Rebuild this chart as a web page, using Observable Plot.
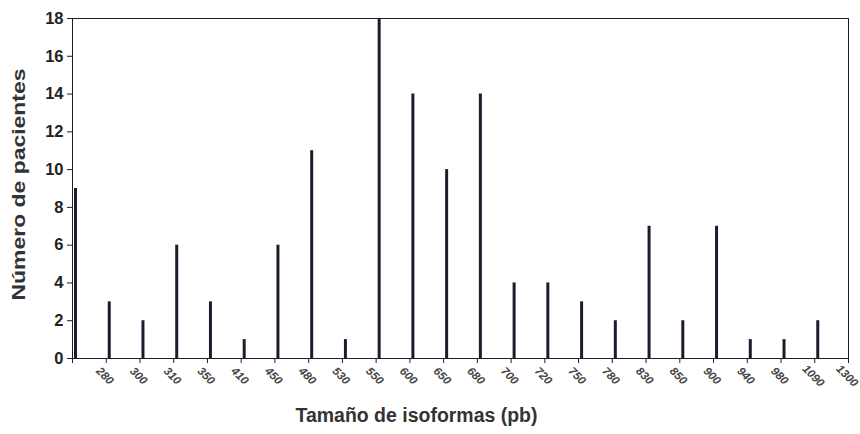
<!DOCTYPE html>
<html>
<head>
<meta charset="utf-8">
<script src="https://cdn.jsdelivr.net/npm/d3@7"></script>
<script src="https://cdn.jsdelivr.net/npm/@observablehq/plot@0.6"></script>
<style>
  html, body { margin: 0; padding: 0; background: #fff; }
  svg { font-family: "Liberation Sans", Arial, sans-serif; }
</style>
</head>
<body>
<div id="chart"></div>
<script>
// Category tick labels (isoform sizes, pb); the first category has no visible label
const sizes = ["", "280", "300", "310", "350", "410", "450", "480", "530", "550", "600", "650", "680", "700", "720", "750", "780", "830", "850", "900", "940", "980", "1090", "1300"];
// Number of patients per category
const patients = [9, 3, 2, 6, 3, 1, 6, 11, 1, 18, 14, 10, 14, 4, 4, 3, 2, 7, 2, 7, 1, 1, 2, 0];
const yTicks = [0, 2, 4, 6, 8, 10, 12, 14, 16, 18];
const yTitle = "Número de pacientes";
const xTitle = "Tamaño de isoformas (pb)";

const data = sizes.map((s, i) => ({size: s, n: patients[i]}));
const ink = "#1b1d2c";

const chart = Plot.plot({
  width: 860,
  height: 434,
  marginLeft: 72,
  marginRight: 12,
  marginTop: 18,
  marginBottom: 76,
  style: {fontFamily: "Liberation Sans, Arial, sans-serif", background: "#fff"},
  x: {type: "point", domain: sizes, padding: 0, round: false},
  y: {domain: [0, 18]},
  marks: [
    Plot.frame({stroke: ink, strokeWidth: 1}),
    Plot.ruleX(data.filter(d => d.n > 0), {x: "size", y1: 0, y2: "n", stroke: ink, strokeWidth: 3, dx: 3}),
    Plot.axisY({ticks: yTicks, tickSize: 5, tickPadding: 4, fontSize: 16.5, fontWeight: "bold", stroke: ink, fill: "#222", label: null}),
    Plot.axisX({tickSize: 5, tickFormat: () => "", stroke: ink, label: null}),
    Plot.text(sizes, {x: d => d, frameAnchor: "bottom", dy: 20, dx: -4, rotate: 45, textAnchor: "middle", fontSize: 11.5, fontWeight: "bold", fontStyle: "italic", fill: "#444"}),
    Plot.text([yTitle], {frameAnchor: "left", textAnchor: "middle", dx: -53, dy: -4, rotate: -90, fontSize: 18.5, fontWeight: "bold", fill: "#333"}),
    Plot.text([xTitle], {frameAnchor: "bottom", textAnchor: "middle", dx: -44, dy: 63, fontSize: 20, fontWeight: "bold", fill: "#333"})
  ]
});
const svg = d3.select(chart);
svg.selectAll("text").filter(function () { return this.textContent === xTitle; })
  .attr("textLength", 242).attr("lengthAdjust", "spacingAndGlyphs");
svg.selectAll("text").filter(function () { return this.textContent === yTitle; })
  .attr("textLength", 232).attr("lengthAdjust", "spacingAndGlyphs");
document.getElementById("chart").appendChild(chart);
</script>
</body>
</html>
